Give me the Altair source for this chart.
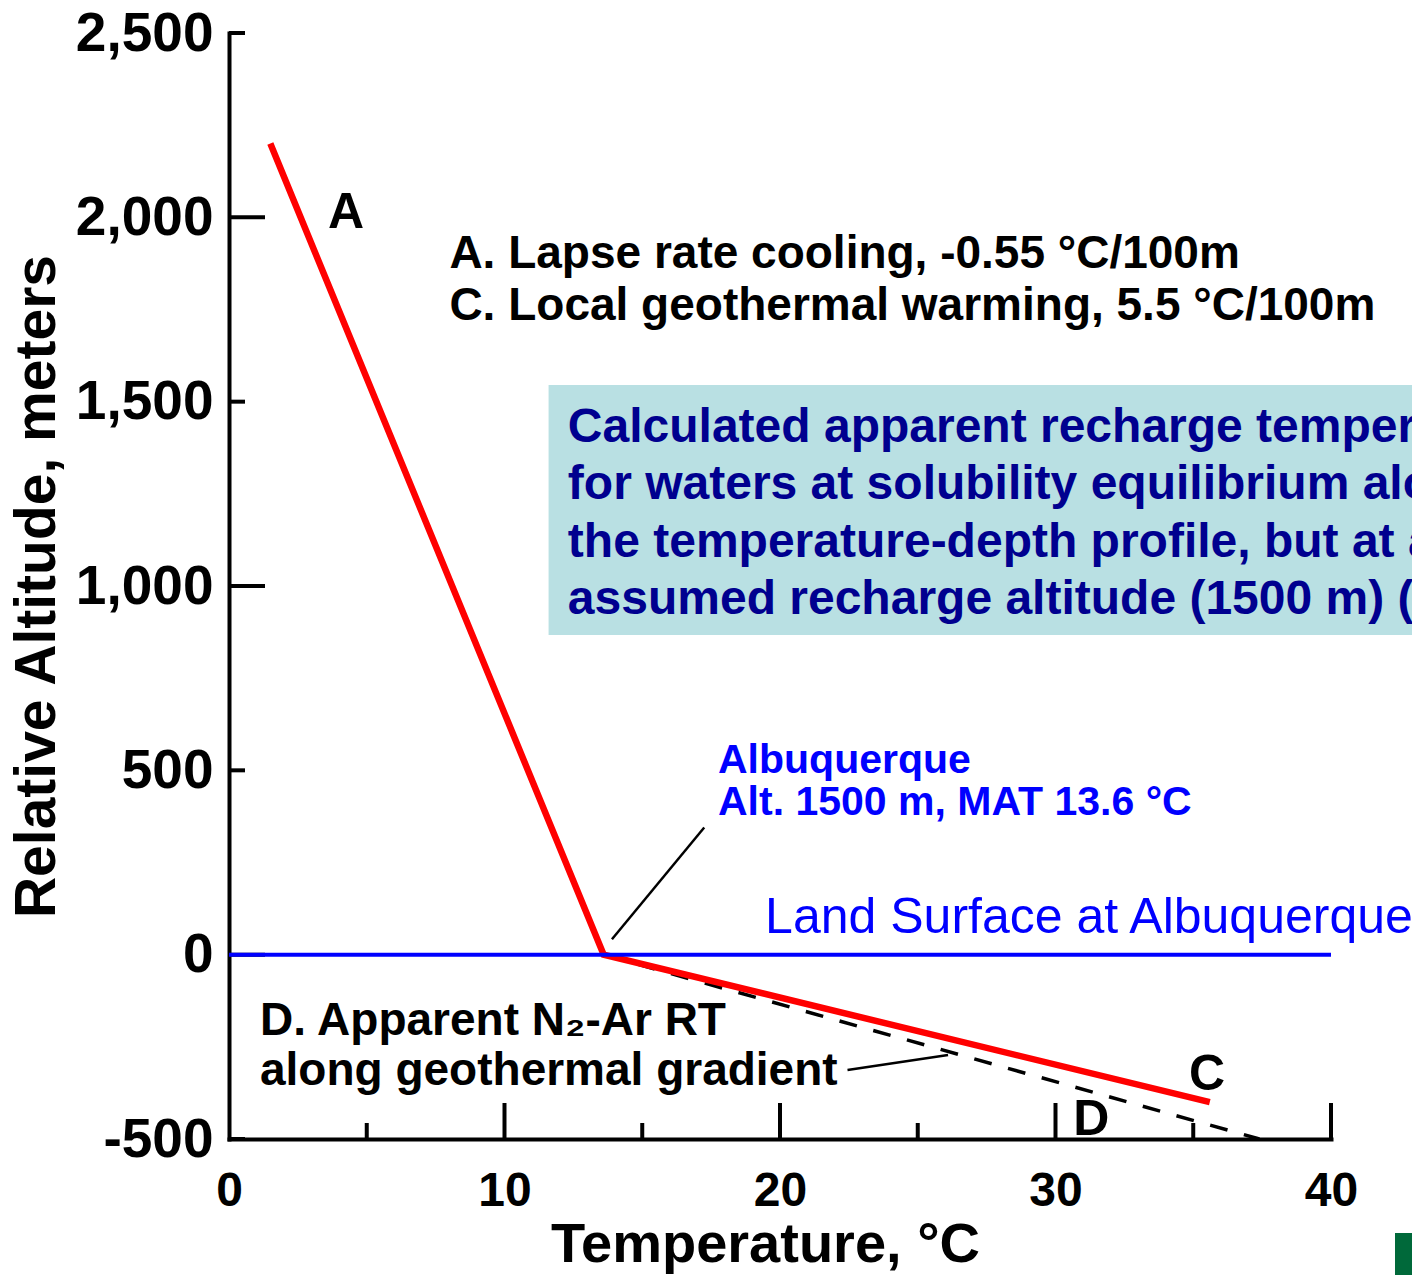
import altair as alt
import pandas as pd

# Temperature-altitude profile: lapse-rate cooling above Albuquerque (A)
# and local geothermal warming below the land surface (C)
profile_temp = [1.5, 13.6, 35.6]
profile_alt = [2200, 0, -400]

# Apparent N2-Ar recharge temperature along the geothermal gradient (D)
apparent_temp = [13.6, 37.4]
apparent_alt = [0, -500]

# Land surface at Albuquerque
surface_temp = [0, 40]
surface_alt = [0, 0]

# Tick positions (drawn inward from the axes)
x_label_values = [0, 10, 20, 30, 40]
y_label_values = [-500, 0, 500, 1000, 1500, 2000, 2500]
x_ticks_major = [10, 20, 30, 40]
x_ticks_minor = [5, 15, 25, 35]
y_ticks_major = [0, 1000, 2000]
y_ticks_minor = [-500, 500, 1500, 2500]

# Annotation text and anchor positions (data units)
curve_letters = ["A", "C", "D"]
curve_letter_x = [4.25, 35.5, 31.3]
curve_letter_y = [1971, -367, -489]

rate_lines = ["A. Lapse rate cooling, -0.55 °C/100m",
              "C. Local geothermal warming, 5.5 °C/100m"]
rate_x = [8.0, 8.0]
rate_y = [1862, 1721]

city_lines = ["Albuquerque", "Alt. 1500 m, MAT 13.6 °C"]
city_x = [17.75, 17.75]
city_y = [493, 379]

surface_lines = ["Land Surface at Albuquerque"]
surface_x = [19.46]
surface_y = [59]

d_lines = ["D. Apparent N₂-Ar RT", "along geothermal gradient"]
d_x = [1.125, 1.125]
d_y = [-218, -353]

box_lines = ["Calculated apparent recharge temperatures",
             "for waters at solubility equilibrium along",
             "the temperature-depth profile, but at an",
             "assumed recharge altitude (1500 m) (D)"]
box_x = [12.3, 12.3, 12.3, 12.3]
box_y = [1390, 1236, 1078, 924]
box_x0, box_x1 = [11.6], [44.0]
box_y0, box_y1 = [867], [1545]

# Leader lines from labels to features
leader_x0 = [13.9, 22.45]
leader_y0 = [42, -313]
leader_x1 = [17.25, 26.1]
leader_y1 = [345, -272]

FONT = "Liberation Sans"
W, H = 1102, 1106

xscale = alt.Scale(domain=[0, 40], nice=False, zero=False)
yscale = alt.Scale(domain=[-500, 2500], nice=False, zero=False)

xaxis = alt.Axis(
    values=x_label_values, ticks=False, grid=False,
    domainColor="black", domainWidth=4, domainCap="square",
    labelFont=FONT, labelFontSize=48, labelFontWeight="bold", labelColor="black",
    labelPadding=28, labelFlush=False, labelOverlap=False,
    title="Temperature, °C", titleFont=FONT, titleFontSize=56,
    titleFontWeight="bold", titleColor="black", titlePadding=2,
    titleX=536, titleAlign="center",
)
yaxis = alt.Axis(
    values=y_label_values, ticks=False, grid=False,
    domainColor="black", domainWidth=4, domainCap="square",
    labelFont=FONT, labelFontSize=55, labelFontWeight="bold", labelColor="black",
    labelPadding=16, labelFlush=False, labelOverlap=False,
    labelExpr="datum.value < 0 ? '-' + format(-datum.value, ',') : format(datum.value, ',')",
    title="Relative Altitude, meters", titleFont=FONT, titleFontSize=57,
    titleFontWeight="bold", titleColor="black", titlePadding=9,
)


def X(field):
    return alt.X(f"{field}:Q", scale=xscale, axis=xaxis)


def Y(field):
    return alt.Y(f"{field}:Q", scale=yscale, axis=yaxis)


profile_df = pd.DataFrame({"t": profile_temp, "z": profile_alt})
apparent_df = pd.DataFrame({"t": apparent_temp, "z": apparent_alt})
surface_df = pd.DataFrame({"t": surface_temp, "z": surface_alt})

box = alt.Chart(pd.DataFrame({"x0": box_x0, "x1": box_x1, "y0": box_y0, "y1": box_y1})).mark_rect(
    color="#b9e0e3"
).encode(x=X("x0"), x2="x1", y=Y("y0"), y2="y1")

apparent = alt.Chart(apparent_df).mark_line(
    color="black", strokeWidth=3.5, strokeDash=[18, 17]
).encode(x=X("t"), y=Y("z"))

profile = alt.Chart(profile_df).mark_line(
    color="#ff0000", strokeWidth=6.5, strokeJoin="miter"
).encode(x=X("t"), y=Y("z"))

surface = alt.Chart(surface_df).mark_line(
    color="#0000ff", strokeWidth=4
).encode(x=X("t"), y=Y("z"))

leaders = alt.Chart(pd.DataFrame({"x0": leader_x0, "y0": leader_y0,
                                  "x1": leader_x1, "y1": leader_y1})).mark_rule(
    color="black", strokeWidth=2.5
).encode(x=X("x0"), y=Y("y0"), x2="x1", y2="y1")

x_major = alt.Chart(pd.DataFrame({"v": x_ticks_major})).mark_rule(
    color="black", strokeWidth=4
).encode(x=X("v"), y=alt.value(H), y2=alt.value(H - 36))
x_minor = alt.Chart(pd.DataFrame({"v": x_ticks_minor})).mark_rule(
    color="black", strokeWidth=4
).encode(x=X("v"), y=alt.value(H), y2=alt.value(H - 16))
y_major = alt.Chart(pd.DataFrame({"v": y_ticks_major})).mark_rule(
    color="black", strokeWidth=4
).encode(y=Y("v"), x=alt.value(0), x2=alt.value(36))
y_minor = alt.Chart(pd.DataFrame({"v": y_ticks_minor})).mark_rule(
    color="black", strokeWidth=4
).encode(y=Y("v"), x=alt.value(0), x2=alt.value(16))


def text_layer(lines, xs, ys, size, color, weight="bold", align="left"):
    df = pd.DataFrame({"label": lines, "x": xs, "y": ys})
    return alt.Chart(df).mark_text(
        font=FONT, fontSize=size, fontWeight=weight, color=color,
        align=align, baseline="alphabetic"
    ).encode(x=X("x"), y=Y("y"), text="label:N")


letters = text_layer(curve_letters, curve_letter_x, curve_letter_y, 50, "black", align="center")
rates = text_layer(rate_lines, rate_x, rate_y, 46, "black")
city = text_layer(city_lines, city_x, city_y, 41, "#0000ff")
surface_text = text_layer(surface_lines, surface_x, surface_y, 50, "#0000ff", weight="normal")
d_text = text_layer(d_lines, d_x, d_y, 46, "black")
box_text = text_layer(box_lines, box_x, box_y, 48, "#00008f")

# corner badge
badge = alt.Chart(pd.DataFrame({"k": [0]})).mark_rect(color="#00693a").encode(
    x=alt.value(1166), x2=alt.value(1200), y=alt.value(1200), y2=alt.value(1260)
)

chart = alt.layer(
    box, box_text, x_major, x_minor, y_major, y_minor,
    apparent, profile, surface, leaders,
    letters, rates, city, surface_text, d_text, badge,
).properties(
    width=W, height=H,
    autosize=alt.AutoSizeParams(type="none"),
    padding={"left": 229, "top": 33, "right": 81, "bottom": 136},
    background="white",
).configure_view(stroke=None)

chart.save("out.html", embed_options={"renderer": "svg", "actions": False})
